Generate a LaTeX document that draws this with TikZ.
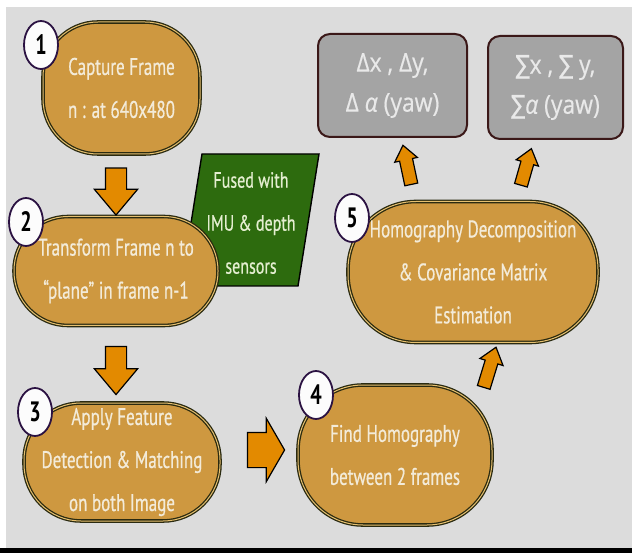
\documentclass[tikz,border=0pt]{standalone}
\usepackage{fontspec}
\setmainfont{PT Sans}
\newfontfamily\bodyf[FakeStretch=0.71,FakeBold=0.6]{PT Sans}
\newfontfamily\grnf[FakeStretch=0.73,FakeBold=0.6]{PT Sans}
\newfontfamily\numf[FakeStretch=0.72]{PT Sans Bold}
\newfontfamily\grf[FakeStretch=0.88,FakeBold=0.5]{Open Sans}
\newfontfamily\symf[FakeStretch=0.8,FakeBold=0.5]{DejaVu Sans}
\usetikzlibrary{shapes.geometric,shapes.arrows,calc}
\definecolor{bgc}{HTML}{DCDCDC}
\definecolor{tan}{HTML}{CE9840}
\definecolor{tanrim}{HTML}{E6C070}
\definecolor{tanline}{HTML}{2A2A10}
\definecolor{cream}{HTML}{F3EBD9}
\definecolor{orng}{HTML}{E38A00}
\definecolor{grn}{HTML}{2D6B0E}
\definecolor{grntext}{HTML}{E4EED0}
\definecolor{gbox}{HTML}{A4A4A4}
\definecolor{gline}{HTML}{3B1818}
\definecolor{gtext}{HTML}{E9E9E9}
\definecolor{cline}{HTML}{2B1242}
\begin{document}
\begin{tikzpicture}[x=1pt,y=-1pt,
  stepbox/.style={draw=tanline, line width=1.3pt, fill=tan, inner sep=0pt,
    double=tanrim, double distance=1pt,
    align=center, text=cream, font=\bodyf\fontsize{24}{43}\selectfont},
  numcirc/.style={ellipse, draw=cline, line width=1.8pt, fill=white!92!bgc,
    minimum width=34pt, minimum height=48pt, inner sep=0pt,
    font=\numf\fontsize{28}{28}\selectfont},
  resbox/.style={draw=gline, line width=2pt, fill=gbox, rounded corners=12pt,
    inner sep=0pt, align=center, text=gtext, font=\grf\fontsize{26}{40}\selectfont},
  blockarrow/.style={single arrow, draw=black, line width=1.2pt, fill=orng,
    inner xsep=0pt},
]
\fill[white] (0,0) rectangle (632,553);
\fill[bgc] (6,7) rectangle (632,548);
\fill[black] (0,548) rectangle (632,553);

% green parallelogram
\draw[fill=grn, line width=1.4pt] (202,154) -- (319,154) -- (298,286) -- (181,286) -- cycle;
\node[align=center, text=grntext, font=\grnf\fontsize{22}{43}\selectfont] (fused) at (251,223)
  {Fused with\\IMU \& depth\\sensors};

% process nodes
\node[stepbox, minimum width=157pt, minimum height=132pt, rounded corners=55pt] (n1) at (121.5,88)
  {Capture Frame\\n : at 640x480};
\node[stepbox, minimum width=204pt, minimum height=109pt, rounded corners=54pt] (n2) at (116,271)
  {Transform Frame n to\\“plane” in frame n-1};
\node[stepbox, minimum width=196pt, minimum height=118pt, rounded corners=57pt] (n3) at (122,462)
  {Apply Feature\\Detection \& Matching\\on both Image};
\node[stepbox, minimum width=194pt, minimum height=140pt, rounded corners=65pt] (n4) at (395,455)
  {Find Homography\\between 2 frames};
\node[stepbox, minimum width=250pt, minimum height=141pt, rounded corners=68pt] (n5) at (473,272)
  {Homography Decomposition\\\& Covariance Matrix\\Estimation};

% numbered circles
\node[numcirc] (c1) at (41,45) {1};
\node[numcirc] (c2) at (26,222) {2};
\node[numcirc] (c3) at (35,412) {3};
\node[numcirc] (c4) at (316,395) {4};
\node[numcirc] (c5) at (352,218) {5};

% result boxes
\node[resbox, minimum width=149pt, minimum height=103pt] (g1) at (392.5,85.5)
  {Δx , Δy,\\Δ \textit{α} (yaw)};
\node[resbox, minimum width=135pt, minimum height=103pt] (g2) at (555.5,87.5)
  {{\symf ∑}x , {\symf ∑} y,\\{\symf ∑}\textit{α} (yaw)};

% block arrows
\node[blockarrow, rotate=-90, minimum height=47pt, inner ysep=10pt,
  single arrow head extend=11pt, single arrow tip angle=80] (a12)
  at ($(n1.south -| n2.north)!0.5!(n2.north)$) {};
\node[blockarrow, rotate=-90, minimum height=48pt, inner ysep=10pt,
  single arrow head extend=11pt, single arrow tip angle=80] (a23)
  at ($(n2.south)!0.5!(n3.north -| n2.south)$) {};
\node[blockarrow, minimum height=37pt, inner ysep=17pt,
  single arrow head extend=14pt, single arrow tip angle=120] (a34)
  at ($(n3.east)!0.5!(n4.west)+(2,-8.5)$) {};
\node[blockarrow, rotate=73, minimum height=42pt, inner ysep=6pt,
  single arrow head extend=5.5pt, single arrow tip angle=76] (a45)
  at ($(n4.north east)+(-4,-13)$) {};
\node[blockarrow, rotate=102, minimum height=40pt, inner ysep=6pt,
  single arrow head extend=5pt, single arrow tip angle=76] (a5g1)
  at ($(g1.south)+(15.5,31)$) {};
\node[blockarrow, rotate=74, minimum height=38pt, inner ysep=6pt,
  single arrow head extend=5pt, single arrow tip angle=76] (a5g2)
  at ($(g2.south)+(-30.5,31)$) {};
\end{tikzpicture}
\end{document}
